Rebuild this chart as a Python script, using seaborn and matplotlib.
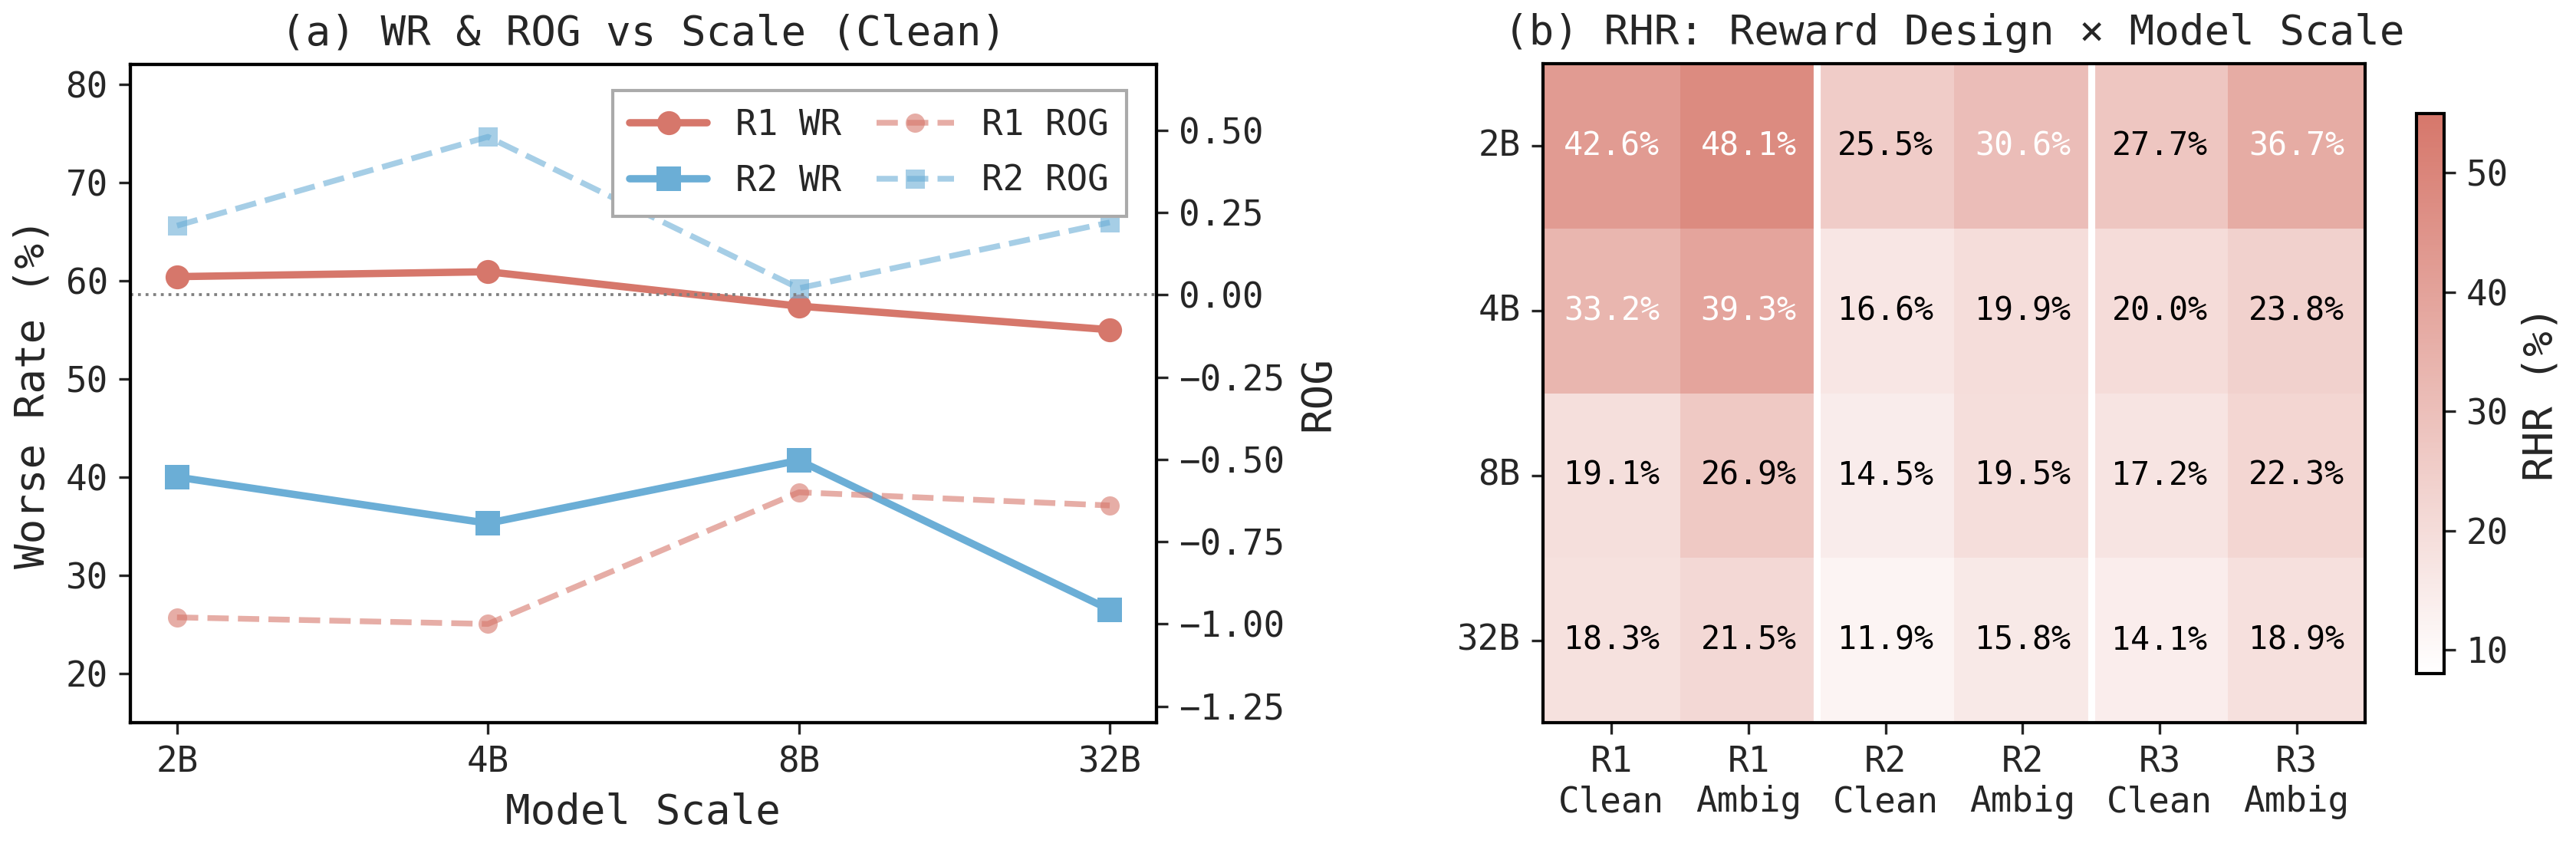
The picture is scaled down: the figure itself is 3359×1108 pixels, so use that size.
import numpy as np
import pandas as pd
import matplotlib
matplotlib.use("Agg")
import matplotlib.pyplot as plt
import seaborn as sns
from matplotlib.colors import LinearSegmentedColormap

# ---------------- data ----------------
scales = ["2B", "4B", "8B", "32B"]
r1_wr = [60.4, 60.9, 57.4, 55.0]
r2_wr = [40.0, 35.3, 41.7, 26.5]
r1_rog = [-0.98, -1.00, -0.60, -0.64]
r2_rog = [0.21, 0.48, 0.02, 0.22]

designs = ["R1\nClean", "R1\nAmbig", "R2\nClean", "R2\nAmbig", "R3\nClean", "R3\nAmbig"]
rhr = [
    [42.6, 48.1, 25.5, 30.6, 27.7, 36.7],
    [33.2, 39.3, 16.6, 19.9, 20.0, 23.8],
    [19.1, 26.9, 14.5, 19.5, 17.2, 22.3],
    [18.3, 21.5, 11.9, 15.8, 14.1, 18.9],
]

# ---------------- style ----------------
sns.set_style("ticks")
plt.rcParams["font.family"] = ["DejaVu Sans Mono", "DejaVu Sans"]
plt.rcParams["axes.edgecolor"] = "black"
plt.rcParams["axes.linewidth"] = 1.0

C_R1 = "#d6776b"
C_R2 = "#6baed6"

fig = plt.figure(figsize=(3359 / 300, 1108 / 300), dpi=300)

# ---------------- panel (a) ----------------
ax = fig.add_axes([0.0506, 0.1498, 0.3983, 0.7744])
ax2 = ax.twinx()

df_wr = pd.DataFrame({"scale": scales * 2,
                      "wr": r1_wr + r2_wr,
                      "series": ["R1 WR"] * 4 + ["R2 WR"] * 4})
df_rog = pd.DataFrame({"scale": scales * 2,
                       "rog": r1_rog + r2_rog,
                       "series": ["R1 ROG"] * 4 + ["R2 ROG"] * 4})

sns.lineplot(data=df_wr[df_wr.series == "R1 WR"], x="scale", y="wr", ax=ax,
             color=C_R1, marker="o", markersize=7.5, linewidth=2.3,
             markeredgewidth=0, label="R1 WR", sort=False)
sns.lineplot(data=df_wr[df_wr.series == "R2 WR"], x="scale", y="wr", ax=ax,
             color=C_R2, marker="s", markersize=7.5, linewidth=2.3,
             markeredgewidth=0, label="R2 WR", sort=False)
sns.lineplot(data=df_rog[df_rog.series == "R1 ROG"], x="scale", y="rog", ax=ax2,
             color=C_R1, marker="o", markersize=6, linewidth=1.8, linestyle="--",
             alpha=0.6, markeredgewidth=0, label="R1 ROG", sort=False)
sns.lineplot(data=df_rog[df_rog.series == "R2 ROG"], x="scale", y="rog", ax=ax2,
             color=C_R2, marker="s", markersize=6, linewidth=1.8, linestyle="--",
             alpha=0.6, markeredgewidth=0, label="R2 ROG", sort=False)

ax2.axhline(0, color="gray", linestyle=":", linewidth=0.9)

ax.set_ylim(15, 82)
ax.set_yticks([20, 30, 40, 50, 60, 70, 80])
ax2.set_ylim(-1.3, 0.7)
ax2.set_yticks([-1.25, -1.0, -0.75, -0.5, -0.25, 0.0, 0.25, 0.5])
ax.set_xlim(-0.15, 3.15)

ax.set_xlabel("Model Scale", fontsize=13)
ax.set_ylabel("Worse Rate (%)", fontsize=13)
ax2.set_ylabel("ROG", fontsize=13)
ax.set_title("(a) WR & ROG vs Scale (Clean)", fontsize=13)
ax.tick_params(labelsize=11)
ax2.tick_params(labelsize=11)

h1, l1 = ax.get_legend_handles_labels()
h2, l2 = ax2.get_legend_handles_labels()
if ax.get_legend():
    ax.get_legend().remove()
if ax2.get_legend():
    ax2.get_legend().remove()
leg = ax2.legend(h1 + h2, l1 + l2, loc="upper right", ncol=2, fontsize=11,
                 fancybox=False, edgecolor="#aaaaaa", framealpha=1.0,
                 borderpad=0.5, labelspacing=0.6, handlelength=2.2,
                 columnspacing=1.0, borderaxespad=0.0,
                 bbox_to_anchor=(0.971, 0.960))

# ---------------- panel (b) ----------------
hax = fig.add_axes([0.599, 0.1498, 0.3191, 0.7753])
cax = fig.add_axes([0.938, 0.2076, 0.0107, 0.659])

cmap = LinearSegmentedColormap.from_list("wr", ["#ffffff", C_R1])
df_h = pd.DataFrame(rhr, index=scales, columns=designs)
annot = df_h.map(lambda v: f"{v:.1f}%")
sns.heatmap(df_h, ax=hax, cbar_ax=cax, cmap=cmap, vmin=8, vmax=55,
            annot=annot, fmt="", annot_kws={"fontsize": 10})

vals = np.array(rhr).ravel()
for t, v in zip(hax.texts, vals):
    t.set_color("white" if v > 30 else "black")

for xline in (2, 4):
    hax.axvline(xline, color="white", linewidth=2.2)

for sp in hax.spines.values():
    sp.set_visible(True)
    sp.set_color("black")
    sp.set_linewidth(1.0)

hax.set_title("(b) RHR: Reward Design × Model Scale", fontsize=13)
hax.set_xlabel("")
hax.set_ylabel("")
hax.tick_params(labelsize=11)
plt.setp(hax.get_yticklabels(), rotation=0)
plt.setp(hax.get_xticklabels(), rotation=0)

cbar = hax.collections[0].colorbar
cbar.outline.set_edgecolor("black")
cbar.outline.set_linewidth(1.0)
cbar.set_label("RHR (%)", fontsize=13)
cbar.ax.tick_params(labelsize=11)
cbar.set_ticks([10, 20, 30, 40, 50])

fig.savefig("out.png", dpi=300)
